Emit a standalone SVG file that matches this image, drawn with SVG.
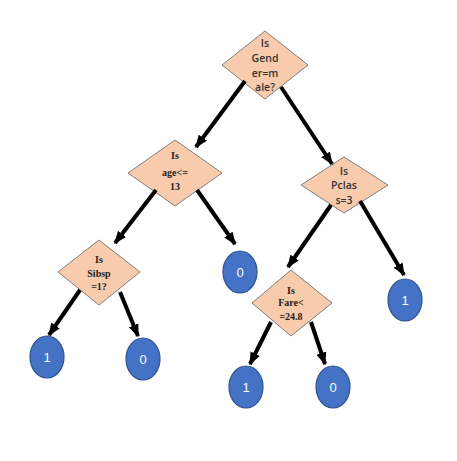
<svg xmlns="http://www.w3.org/2000/svg" width="457" height="461" viewBox="0 0 457 461">
<defs>
<marker id="ah" viewBox="0 0 10 8" refX="9" refY="4" markerWidth="3.2" markerHeight="2.8" orient="auto" markerUnits="strokeWidth">
<path d="M0,0 L10,4 L0,8 z" fill="#000"/>
</marker>
<style>
.d{fill:#F8CBAD;stroke:#7f7f7f;stroke-width:1}
.c{fill:#4472C4;stroke:#2F528F;stroke-width:1.2}
.ct{font-family:"Liberation Sans",Arial,sans-serif;font-size:13px;fill:#fff;text-anchor:middle}
.ts{font-family:"Open Sans","Liberation Sans",sans-serif;font-size:10.5px;font-weight:600;fill:#333;text-anchor:middle}
.tr{font-family:"Liberation Serif","Times New Roman",serif;font-size:10px;font-weight:bold;fill:#222;text-anchor:middle}
.e{stroke:#000;stroke-width:4;fill:none;marker-end:url(#ah)}
</style>
</defs>
<rect width="457" height="461" fill="#fff"/>
<g id="n-gender">
<polygon class="d" points="265,31 308,65 265,99 222,65"/>
<text class="ts" x="265" y="47">Is</text>
<text class="ts" x="265" y="62">Gend</text>
<text class="ts" x="265" y="77">er=m</text>
<text class="ts" x="265" y="91">ale?</text>
</g>
<g id="n-age">
<polygon class="d" points="175,140 222,173 175,206 128,173"/>
<text class="tr" x="175" y="159">Is</text>
<text class="tr" x="175" y="176">age&lt;=</text>
<text class="tr" x="175" y="190">13</text>
</g>
<g id="n-pclass">
<polygon class="d" points="344,157 388,185 344,213 301,185"/>
<text class="ts" x="344" y="175">Is</text>
<text class="ts" x="344" y="189">Pclas</text>
<text class="ts" x="344" y="204">s=3</text>
</g>
<g id="n-sibsp">
<polygon class="d" points="99,240 140,272 99,305 58,272"/>
<text class="tr" x="99" y="263">Is</text>
<text class="tr" x="99" y="277">Sibsp</text>
<text class="tr" x="99" y="290">=1?</text>
</g>
<g id="n-fare">
<polygon class="d" points="291,270 332,303 291,336 252,303"/>
<text class="tr" x="291" y="294">Is</text>
<text class="tr" x="291" y="306">Fare&lt;</text>
<text class="tr" x="291" y="320">=24.8</text>
</g>
<g id="l-age0">
<ellipse class="c" cx="240" cy="272" rx="17" ry="21"/>
<text class="ct" x="240" y="277">0</text>
</g>
<g id="l-pclass1">
<ellipse class="c" cx="405" cy="300" rx="17" ry="21"/>
<text class="ct" x="405" y="305">1</text>
</g>
<g id="l-sibsp1">
<ellipse class="c" cx="47" cy="357" rx="17" ry="21"/>
<text class="ct" x="47" y="362">1</text>
</g>
<g id="l-sibsp0">
<ellipse class="c" cx="143" cy="359" rx="17" ry="21"/>
<text class="ct" x="143" y="364">0</text>
</g>
<g id="l-fare1">
<ellipse class="c" cx="246" cy="387" rx="17" ry="21"/>
<text class="ct" x="246" y="392">1</text>
</g>
<g id="l-fare0">
<ellipse class="c" cx="333" cy="387" rx="17" ry="21"/>
<text class="ct" x="333" y="392">0</text>
</g>
<g id="connectors">
<line class="e" x1="245" y1="81" x2="196" y2="147"/>
<line class="e" x1="281" y1="87" x2="332" y2="164"/>
<line class="e" x1="156" y1="190" x2="115" y2="243"/>
<line class="e" x1="197" y1="190" x2="235" y2="244"/>
<line class="e" x1="331" y1="205" x2="288" y2="267"/>
<line class="e" x1="360" y1="201" x2="404" y2="275"/>
<line class="e" x1="80" y1="290" x2="49" y2="335"/>
<line class="e" x1="120" y1="292" x2="138" y2="336"/>
<line class="e" x1="271" y1="322" x2="250" y2="364"/>
<line class="e" x1="311" y1="322" x2="325" y2="364"/>
</g>
</svg>
